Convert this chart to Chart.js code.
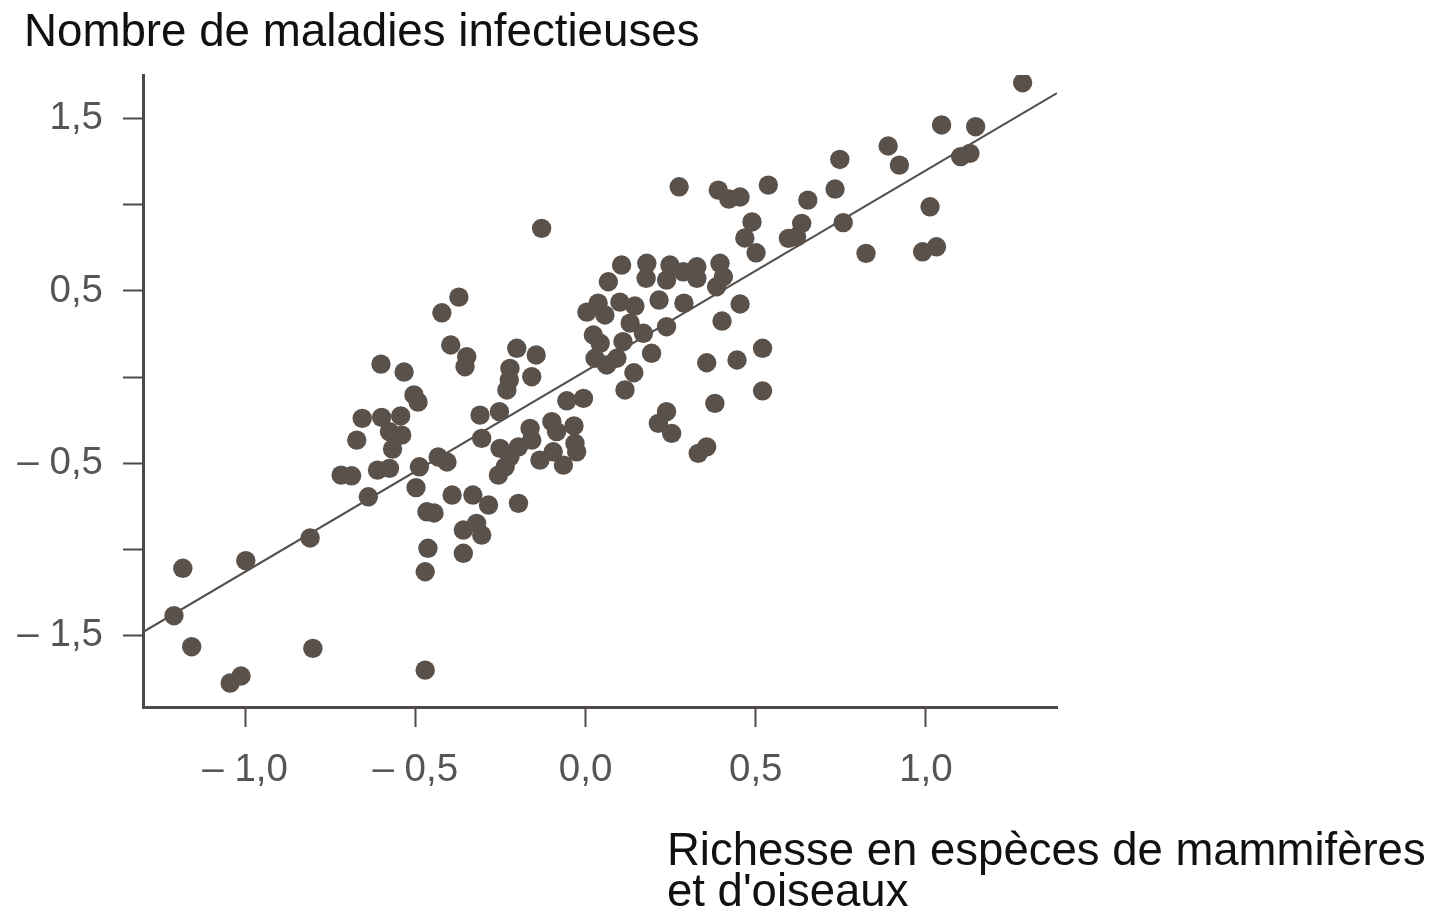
<!DOCTYPE html>
<html>
<head>
<meta charset="utf-8">
<script src="https://cdn.jsdelivr.net/npm/chart.js@4.4.1/dist/chart.umd.min.js"></script>
<style>
  html, body { margin: 0; padding: 0; background: #ffffff; }
  #wrap { position: relative; width: 1437px; height: 913px; overflow: hidden; }
  #wrap canvas { position: absolute; left: 0; top: 0; }
  .lbl { position: absolute; font-family: "Liberation Sans", Arial, sans-serif; font-size: 45.7px; color: #111; white-space: nowrap; }
  #ytitle { left: 24px; top: 8px; line-height: 45px; }
  #xtitle { left: 667px; top: 829px; line-height: 41px; font-size: 45.5px; }
</style>
</head>
<body>
<div id="wrap">
  <canvas id="c" width="1437" height="913"></canvas>
  <div class="lbl" id="ytitle">Nombre de maladies infectieuses</div>
  <div class="lbl" id="xtitle">Richesse en espèces de mammifères<br>et d'oiseaux</div>
</div>
<script>
// ---- data ----
const xValues = [
  -1.183,-1.209,-1.157,-1.044,-1.012,-0.998,-0.809,-0.801,-0.471,-0.471,-0.463,
  -0.422,-0.396,-0.601,-0.533,-0.504,-0.492,-0.656,-0.599,-0.543,-0.576,-0.540,
  -0.672,-0.567,-0.718,-0.687,-0.611,-0.576,-0.488,-0.433,-0.407,-0.498,-0.638,
  -0.466,-0.445,-0.392,-0.372,-0.349,-0.354,-0.202,-0.145,-0.222,-0.224,-0.231,
  -0.158,0.004,0.037,0.057,0.101,0.145,0.216,0.289,0.454,0.401,0.238,0.170,
  0.131,0.110,0.023,0.043,0.028,0.062,0.092,0.194,0.142,0.116,0.356,0.445,
  0.380,0.238,0.214,0.253,0.356,0.331,-0.055,-0.006,-0.310,-0.253,-0.305,-0.251,
  -0.197,-0.163,-0.158,-0.099,-0.085,-0.034,-0.031,-0.026,-0.095,-0.134,-0.065,
  -0.222,-0.236,-0.256,-0.331,-0.285,-0.197,-0.359,-0.320,-0.305,-0.359,-0.129,
  0.275,0.390,0.421,0.454,0.489,0.468,0.106,0.067,0.180,0.178,0.248,0.287,
  0.327,0.327,0.238,0.395,0.405,0.385,1.284,1.046,1.146,0.889,0.922,0.747,
  1.102,1.129,0.537,0.733,0.653,0.635,0.596,0.620,0.501,0.757,1.012,0.824,
  0.990,1.031,0.520,0.520
];
const yValues = [
  -1.110,-1.385,-1.565,-1.776,-1.735,-1.066,-0.934,-1.575,-1.701,-1.130,-0.994,
  0.373,0.186,0.075,0.029,-0.104,-0.145,-0.240,-0.234,-0.226,-0.317,-0.337,
  -0.366,-0.418,-0.569,-0.573,-0.540,-0.530,-0.521,-0.464,-0.493,-0.642,-0.695,
  -0.782,-0.789,-0.685,0.464,0.118,0.060,0.167,0.128,0.050,-0.017,-0.075,
  0.002,0.377,0.429,0.360,0.435,0.412,0.447,0.429,0.424,0.325,0.292,0.254,
  0.313,0.205,0.244,0.196,0.109,0.070,0.109,0.138,0.025,-0.075,0.083,0.099,
  -0.153,-0.201,-0.269,-0.327,-0.405,-0.443,-0.138,-0.124,-0.221,-0.201,-0.356,-0.414,
  -0.405,-0.298,-0.366,-0.259,-0.317,-0.284,-0.385,-0.434,-0.434,-0.482,-0.511,
  -0.463,-0.521,-0.569,-0.685,-0.743,-0.733,-0.888,-0.849,-0.917,-1.023,0.863,
  1.104,1.085,1.033,1.045,0.900,0.807,0.650,0.553,0.660,0.573,0.650,0.611,
  0.640,0.573,0.563,0.660,0.582,0.524,1.708,1.463,1.453,1.341,1.230,1.263,
  1.279,1.298,1.114,1.091,1.027,0.892,0.805,0.814,0.721,0.896,0.988,0.718,
  0.727,0.756,0.167,-0.080
];
// regression line end points
const lineX = [-1.3, 1.385];
const lineY = [-1.48, 1.648];

// axis ticks
const xTickValues = [-1.0, -0.5, 0.0, 0.5, 1.0];
const xTickLabels = ['\u2013 1,0', '\u2013 0,5', '0,0', '0,5', '1,0'];
const yTickValues = [-1.5, -1.0, -0.5, 0.0, 0.5, 1.0, 1.5];
const yTickLabels = ['\u2013 1,5', '', '\u2013 0,5', '', '0,5', '', '1,5'];

const xRange = [-1.3, 1.385];
const yRange = [-1.915, 1.753];

// ---- build chart ----
const points = xValues.map((x, i) => ({ x: x, y: yValues[i] }));
const fit = lineX.map((x, i) => ({ x: x, y: lineY[i] }));

const axisColor = '#4f4a47';
const tickFont = { family: '"Liberation Sans", Arial, sans-serif', size: 38.5 };

new Chart(document.getElementById('c'), {
  type: 'scatter',
  data: {
    datasets: [
      {
        label: 'points',
        data: points,
        backgroundColor: '#5a514b',
        borderColor: '#5a514b',
        borderWidth: 0,
        pointRadius: 9.7,
        pointHoverRadius: 9.7
      },
      {
        label: 'fit',
        type: 'line',
        data: fit,
        borderColor: '#55504c',
        borderWidth: 2.2,
        pointRadius: 0,
        fill: false,
        tension: 0
      }
    ]
  },
  options: {
    responsive: false,
    animation: false,
    devicePixelRatio: 1,
    layout: { padding: { left: 0, top: 75, right: 380, bottom: 0 } },
    plugins: { legend: { display: false }, tooltip: { enabled: false }, title: { display: false } },
    scales: {
      x: {
        type: 'linear',
        min: xRange[0],
        max: xRange[1],
        afterFit: s => { s.height = 206; },
        afterBuildTicks: s => { s.ticks = xTickValues.map(v => ({ value: v })); },
        ticks: {
          callback: (v) => { const i = xTickValues.findIndex(t => Math.abs(t - v) < 1e-9); return i >= 0 ? xTickLabels[i] : ''; },
          font: tickFont,
          color: '#555',
          padding: 20,
          maxRotation: 0,
          autoSkip: false
        },
        grid: { drawOnChartArea: false, drawTicks: true, tickLength: 20, color: axisColor, tickWidth: 2 },
        border: { display: true, color: axisColor, width: 3 }
      },
      y: {
        type: 'linear',
        min: yRange[0],
        max: yRange[1],
        afterFit: s => { s.width = 143; },
        afterBuildTicks: s => { s.ticks = yTickValues.map(v => ({ value: v })); },
        ticks: {
          callback: (v) => { const i = yTickValues.findIndex(t => Math.abs(t - v) < 1e-9); return i >= 0 ? yTickLabels[i] : ''; },
          font: tickFont,
          color: '#555',
          padding: 20,
          autoSkip: false
        },
        grid: { drawOnChartArea: false, drawTicks: true, tickLength: 20, color: axisColor, tickWidth: 2 },
        border: { display: true, color: axisColor, width: 3 }
      }
    }
  }
});
</script>
</body>
</html>
